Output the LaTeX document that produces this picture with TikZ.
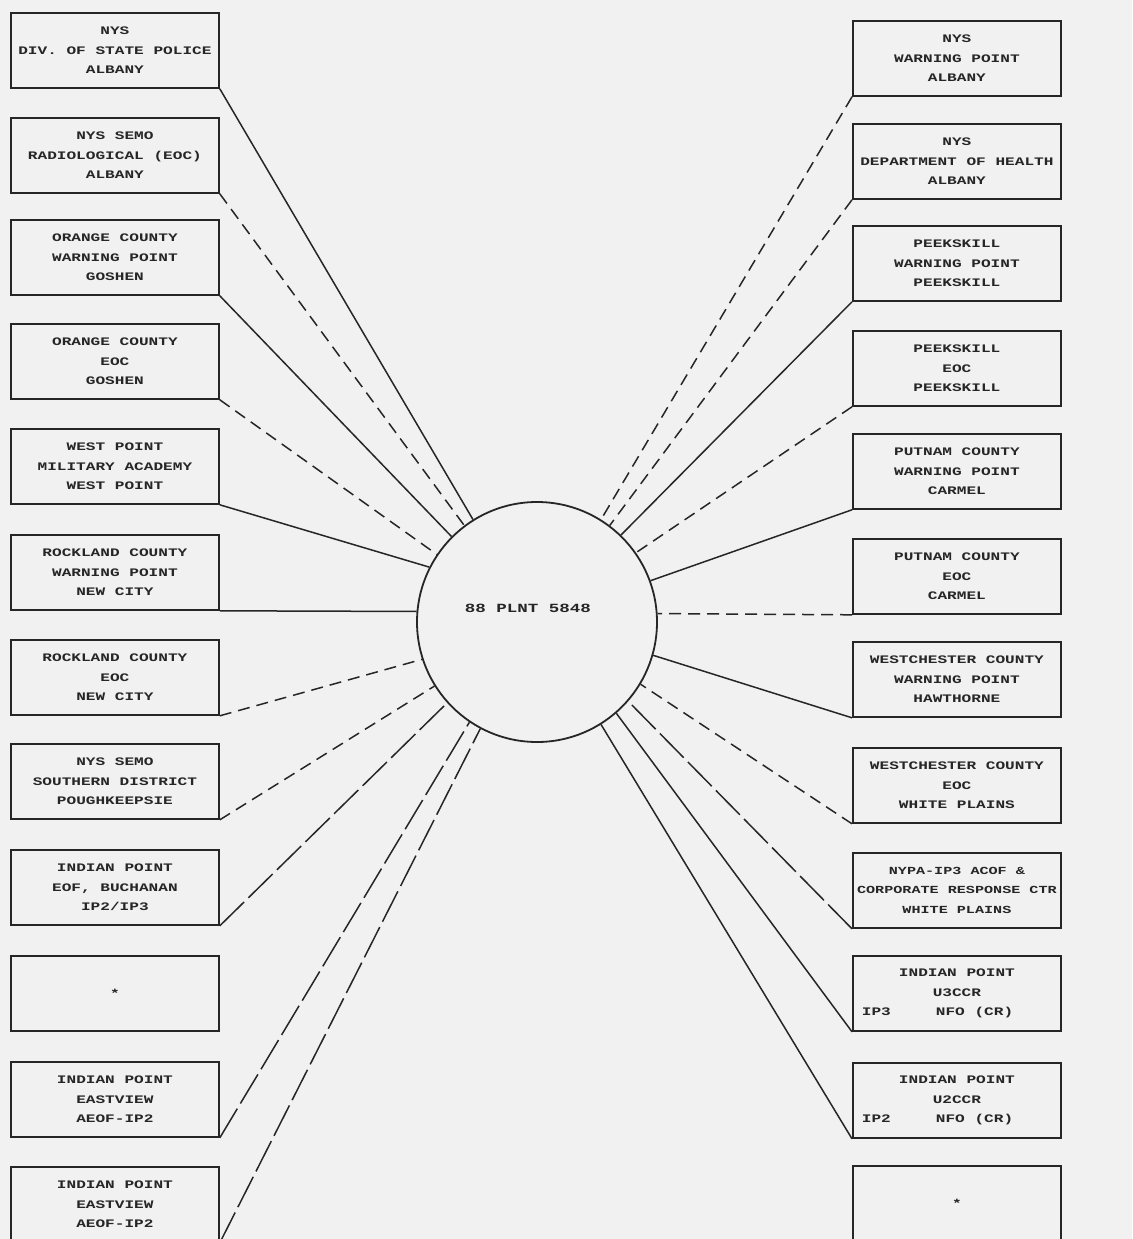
\documentclass[tikz,border=0pt]{standalone}
\usepackage{fontspec}
\newfontfamily\boxfont[FakeStretch=1.4]{Liberation Mono}
\definecolor{paper}{RGB}{241,241,241}
\definecolor{ink}{RGB}{38,38,38}

\begin{document}
\begin{tikzpicture}[x=1pt,y=-1pt]
   \tikzstyle{every node}=[font=\boxfont\bfseries\fontsize{11.5}{19.5}\selectfont, text=ink]
   \tikzstyle{agency}=[draw=ink, line width=1.8pt, rectangle, anchor=north west, minimum width=208pt, minimum height=75pt, align=center, inner sep=0pt]
   \tikzstyle{solidlink}=[draw=ink, line width=1.5pt]
   \tikzstyle{dashlink}=[solidlink, dash pattern=on 12pt off 7pt]
   \tikzstyle{longlink}=[solidlink, dash pattern=on 34pt off 6pt]

\fill[paper] (0,0) rectangle (1132,1239);
\useasboundingbox (0,0) rectangle (1132,1239);

% the plant in the middle
\node[draw=ink, circle, line width=1.8pt, minimum size=240pt] (plant) at (537,622) {};
\node[font=\boxfont\bfseries\fontsize{12.5}{14}\selectfont] (plantname) at (528,608) {88 PLNT 5848};

% left column
\node[agency] (L1) at (10,12) {NYS\\DIV. OF STATE POLICE\\ALBANY};
\node[agency] (L2) at (10,117) {NYS SEMO\\RADIOLOGICAL (EOC)\\ALBANY};
\node[agency] (L3) at (10,219) {ORANGE COUNTY\\WARNING POINT\\GOSHEN};
\node[agency] (L4) at (10,323) {ORANGE COUNTY\\EOC\\GOSHEN};
\node[agency] (L5) at (10,428) {WEST POINT\\MILITARY ACADEMY\\WEST POINT};
\node[agency] (L6) at (10,534) {ROCKLAND COUNTY\\WARNING POINT\\NEW CITY};
\node[agency] (L7) at (10,639) {ROCKLAND COUNTY\\EOC\\NEW CITY};
\node[agency] (L8) at (10,743) {NYS SEMO\\SOUTHERN DISTRICT\\POUGHKEEPSIE};
\node[agency] (L9) at (10,849) {INDIAN POINT\\EOF, BUCHANAN\\IP2/IP3};
\node[agency] (L10) at (10,955) {*};
\node[agency] (L11) at (10,1061) {INDIAN POINT\\EASTVIEW\\AEOF-IP2};
\node[agency] (L12) at (10,1166) {INDIAN POINT\\EASTVIEW\\AEOF-IP2};

% right column
\node[agency] (R1) at (852,20) {NYS\\WARNING POINT\\ALBANY};
\node[agency] (R2) at (852,123) {NYS\\DEPARTMENT OF HEALTH\\ALBANY};
\node[agency] (R3) at (852,225) {PEEKSKILL\\WARNING POINT\\PEEKSKILL};
\node[agency] (R4) at (852,330) {PEEKSKILL\\EOC\\PEEKSKILL};
\node[agency] (R5) at (852,433) {PUTNAM COUNTY\\WARNING POINT\\CARMEL};
\node[agency] (R6) at (852,538) {PUTNAM COUNTY\\EOC\\CARMEL};
\node[agency] (R7) at (852,641) {WESTCHESTER COUNTY\\WARNING POINT\\HAWTHORNE};
\node[agency] (R8) at (852,747) {WESTCHESTER COUNTY\\EOC\\WHITE PLAINS};
\node[agency, font=\boxfont\bfseries\fontsize{10.8}{19.5}\selectfont] (R9) at (852,852) {NYPA-IP3 ACOF \&\\CORPORATE RESPONSE CTR\\WHITE PLAINS};
\node[agency] (R10) at (852,955) {INDIAN POINT\\U3CCR\\\makebox[190pt][l]{IP3\hspace{45pt}NFO (CR)}};
\node[agency] (R11) at (852,1062) {INDIAN POINT\\U2CCR\\\makebox[190pt][l]{IP2\hspace{45pt}NFO (CR)}};
\node[agency] (R12) at (852,1165) {*};

% links to the plant
\draw[solidlink] (L1.south east) -- (plant.122);
\draw[dashlink] (L2.south east) -- (plant.127);
\draw[solidlink] (L3.south east) -- (plant.135);
\draw[dashlink] (L4.south east) -- (plant.146);
\draw[solidlink] (L5.south east) -- (plant.153);
\draw[solidlink] (L6.south east) -- (plant.175);
\draw[dashlink] (L7.south east) -- (plant.198);
\draw[dashlink] (L8.south east) -- (plant.212);
\draw[longlink] (L9.south east) -- (plant.222);
\draw[longlink] (L11.south east) -- (plant.236);
\draw[longlink] (L12.south east) -- (plant.242);

\draw[dashlink] (R1.south west) -- (plant.58);
\draw[dashlink] (R2.south west) -- (plant.53);
\draw[solidlink] (R3.south west) -- (plant.46);
\draw[dashlink] (R4.south west) -- (plant.35);
\draw[solidlink] (R5.south west) -- (plant.20);
\draw[dashlink] (R6.south west) -- (plant.4);
\draw[solidlink] (R7.south west) -- (plant.-16);
\draw[dashlink] (R8.south west) -- (plant.-31);
\draw[longlink] (R9.south west) -- (plant.-41);
\draw[solidlink] (R10.south west) -- (plant.-49);
\draw[solidlink] (R11.south west) -- (plant.-58);

\end{tikzpicture}
\end{document}
